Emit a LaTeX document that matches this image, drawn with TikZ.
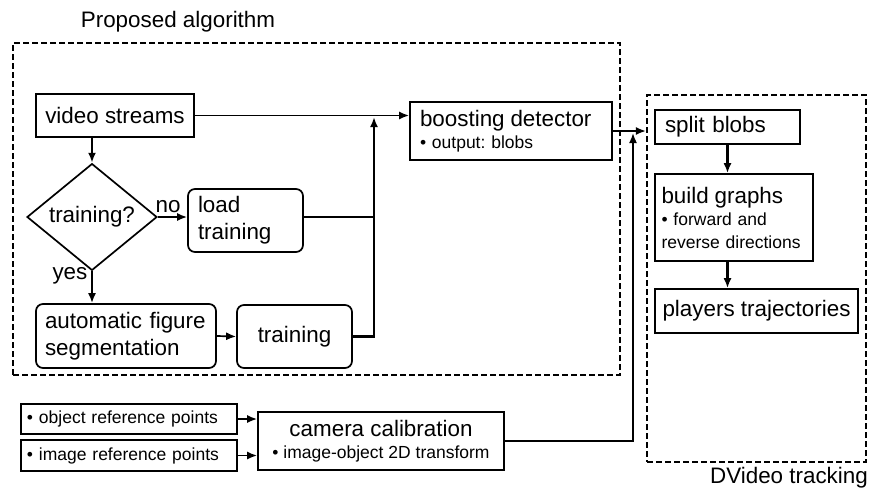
\documentclass[tikz,border=0pt]{standalone}
\usepackage{fontspec}
\setmainfont{Liberation Sans}
\usetikzlibrary{shapes.geometric,arrows.meta}
\newcommand{\mainsize}{\fontsize{22.4}{27}\selectfont}
\newcommand{\notesize}{\fontsize{17.5}{22.5}\selectfont}
\begin{document}
\frenchspacing
\begin{tikzpicture}[
    x=1pt, y=-1pt,
    box/.style={draw, line width=1.7pt, inner sep=0pt, font=\mainsize},
    rbox/.style={box, rounded corners=7pt},
    frame/.style={draw, dash pattern=on 6pt off 3pt, line width=2.2pt,
                  inner sep=0pt},
    arr/.style={-{Latex[length=10pt,width=8pt]}, line width=1.7pt},
    bold/.style={line width=2.6pt}
  ]
  \useasboundingbox (0,0) rectangle (869,493);
  % Frames
  \node[frame, minimum width=607pt, minimum height=332pt] (alg) at (316.5,209) {};
  \node[font=\mainsize] (alglbl) at (178,22) {Proposed algorithm};
  \node[frame, minimum width=219pt, minimum height=367pt] (track) at (756.5,278.5) {};
  \node[font=\mainsize] (tracklbl) at (789,478) {DVideo tracking};
  % Proposed algorithm
  \node[box, minimum width=158pt, minimum height=43pt] (vs) at (115,115.5)
    {video streams};
  \node[box, diamond, minimum width=130pt, minimum height=99pt] (dia) at (92,217)
    {training?};
  \node[rbox, minimum width=115pt, minimum height=63pt, text width=95pt,
        align=left] (load) at (245.5,220.5) {load\\training};
  \node[rbox, minimum width=180pt, minimum height=64pt, text width=162pt,
        align=left] (afs) at (126,336) {automatic figure\\segmentation};
  \node[rbox, minimum width=115pt, minimum height=63pt] (train) at (294.5,336.5)
    {training};
  \node[box, font=\notesize, minimum width=202pt, minimum height=58pt,
        text width=182pt, align=left] (boost) at (511,131) {%
    {\mainsize boosting detector}\\
    • output: blobs};
  % DVideo tracking
  \node[box, minimum width=145pt, minimum height=34pt, text width=125pt,
        align=left] (split) at (727.5,127) {split blobs};
  \node[box, font=\notesize, minimum width=158pt, minimum height=87pt,
        text width=145pt, align=left] (build) at (734,217.5) {%
    {\mainsize build graphs}\\
    • forward and\\
    reverse directions};
  \node[box, minimum width=203pt, minimum height=44pt] (players) at (756.5,311)
    {players trajectories};
  % Camera calibration
  \node[box, font=\notesize, minimum width=216pt, minimum height=30pt,
        text width=204pt, align=left] (obj) at (129,419)
    {• object reference points};
  \node[box, font=\notesize, minimum width=216pt, minimum height=31pt,
        text width=204pt, align=left] (img) at (129,455.5)
    {• image reference points};
  \node[box, font=\notesize, minimum width=246pt, minimum height=58pt,
        align=center] (cam) at (381,441) {%
    {\mainsize camera calibration}\\
    • image-object 2D transform};
  % Junctions
  \coordinate (jn) at (374,117);
  \coordinate (cj) at (633,133);
  % Connectors
  \draw[arr, bold] (dia.north |- vs.south) -- (dia.north);
  \draw[arr] (dia.east) -- node[above, pos=0.35, font=\mainsize] {no}
    (dia.east -| load.west);
  \draw[arr, bold] (dia.south) -- node[left, pos=0.15, font=\mainsize] {yes}
    (dia.south |- afs.north);
  \draw[arr] (afs.east) -- (train.west);
  \draw[arr, bold] (train.east) -| (jn);
  \draw[line width=1.7pt] (load.east |- 0,217) -- (jn |- 0,217);
  \draw[arr] (vs.east) -- (vs.east -| boost.west);
  \draw[arr] (boost.east) -- (boost.east -| track.west);
  \draw[arr, bold] (split.south) -- (build.north -| split.south);
  \draw[arr, bold] (build.south -| split.south) -- (players.north -| split.south);
  \draw[arr] (obj.east) -- (obj.east -| cam.west);
  \draw[arr] (img.east) -- (img.east -| cam.west);
  \draw[arr] (cam.east) -| (cj);
\end{tikzpicture}
\end{document}
